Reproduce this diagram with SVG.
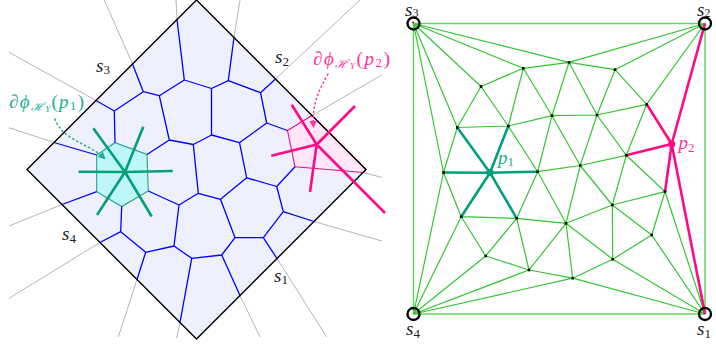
<svg xmlns="http://www.w3.org/2000/svg" width="716" height="347" viewBox="0 0 716 347">
<style>
.gray{stroke:#b5b5b5;stroke-width:1;fill:none}
.blue{stroke:#0000ff;stroke-width:1.3;fill:none;stroke-linejoin:round}
.dia{stroke:#000;stroke-width:1.4;fill:none}
.tealw{stroke:#00a07a;stroke-width:2.6;fill:none;stroke-linecap:butt}
.pinkw{stroke:#ff0a86;stroke-width:2.6;fill:none}
.g{stroke:#33c633;stroke-width:1.2;fill:none}
.gb{stroke:#5fd85f;stroke-width:1.5;fill:none}
.pt{fill:#000}
.cor{fill:none;stroke:#000;stroke-width:2.3}
.m{font-family:"Liberation Serif","DejaVu Serif",serif;font-size:19px;fill:#222}
.it{font-style:italic}
.tl{fill:#22b08e}
.pl{fill:#ff3399}
</style>
<defs>
<marker id="aT" viewBox="0 0 10 10" refX="7" refY="5" markerWidth="5" markerHeight="5" orient="auto"><path d="M0,0 L10,5 L0,10 z" fill="#22b08e"/></marker>
<marker id="aP" viewBox="0 0 10 10" refX="7" refY="5" markerWidth="5" markerHeight="5" orient="auto"><path d="M0,0 L10,5 L0,10 z" fill="#ff3399"/></marker>
</defs>

<!-- LEFT: power diagram -->
<g id="left-domain">
<path d="M196.5,0 L366,169.5 L196.5,339 L27,169.5 Z" fill="#eef0fd"/>
</g>
<g id="left-rays">
<path class="gray" d="M176,0 L177,19.5 M104.3,0 L132.5,64 M9,52.3 L96,100.5 M9,127.7 L54,142.5 M9,226 L62,204.5 M9,298.3 L100,242.5 M118.3,337 L137,279.5 M176.7,338 L180,322.5 M260,337 L240,295.5 M326.7,337 L277,258.5 M381.7,241 L314,221.5 M381.7,177.3 L363,172.5 M381.7,75 L312,115.5 M360,0 L275.5,79 M240,0 L234,37.5"/>
</g>
<g id="cell-p1">
<path d="M96.7,155 L115,142.7 L147,154.5 L148.3,191 L121.7,206.5 L96.7,191.7 Z" fill="#bff7f8" stroke="#27a08c" stroke-width="1.1"/>
</g>
<g id="cell-p2">
<path d="M287.5,130.5 L312,115.5 L366,169.5 L363,172.5 L295,166.7 Z" fill="#ffe6f6" stroke="#e0108a" stroke-width="1.1"/>
</g>
<g id="left-edges">
<path class="blue" d="M177,19.5 L184.3,80 L211.5,88.5 M184.3,80 L159.3,95.7 M132.5,64 L143.3,91.7 L159.3,95.7 L169.3,140 M143.3,91.7 L114.3,111 L115,142.7 M96,100.5 L114.3,111 M169.3,140 L147,154.5 M169.3,140 L193.3,144.5 L211.5,135 L211.5,88.5 L228.3,80.7 L234,37.5 M228.3,80.7 L260.5,92.7 L275.5,79 M260.5,92.7 L266.7,123 L287.5,130.5 M266.7,123 L239.5,142.7 L211.5,135 M239.5,142.7 L246.7,177.8 L276.7,186.5 L295,166.7 M276.7,186.5 L283.3,211.7 L314,221.5 M283.3,211.7 L263.3,237.7 L277,258.5 M263.3,237.7 L235,237.7 L220.5,199.3 L246.7,177.8 M220.5,199.3 L198.3,193.3 L193.3,144.5 M198.3,193.3 L179,205 L148.3,191 M179,205 L174,246 L191.7,258.3 L221.7,255 L235,237.7 M221.7,255 L240,295.5 M191.7,258.3 L180,322.5 M174,246 L145.7,252.3 L137,279.5 M145.7,252.3 L120.7,231.7 L100,242.5 M120.7,231.7 L121.7,206.5 M54,142.5 L96.7,155 M62,204.5 L96.7,191.7"/>
</g>
<g id="left-border">
<path class="dia" d="M196.5,0 L366,169.5 L196.5,339 L27,169.5 Z"/>
</g>
<g id="left-p1-star">
<path class="tealw" d="M125,172 L78.5,171.8 M125,172 L93.3,128.3 M125,172 L143.3,126.7 M125,172 L172.7,171 M125,172 L151.7,216.5 M125,172 L97,215"/>
</g>
<g id="left-p2-star">
<path class="pinkw" d="M316.7,144.5 L291.7,104.8 M316.7,144.5 L271.3,155.8 M316.7,144.5 L310,192 M316.7,144.5 L355,106 M316.7,144.5 L385,213"/>
</g>
<g id="left-labels">
<text class="m it" x="96" y="71.5">s<tspan font-size="13" font-style="normal" dy="2.5">3</tspan></text>
<text class="m it" x="275" y="63">s<tspan font-size="13" font-style="normal" dy="2.5">2</tspan></text>
<text class="m it" x="62" y="240">s<tspan font-size="13" font-style="normal" dy="2.5">4</tspan></text>
<text class="m it" x="274" y="281.5">s<tspan font-size="13" font-style="normal" dy="2.5">1</tspan></text>
<text class="m it tl" x="9" y="107.5" textLength="75" lengthAdjust="spacing">∂ϕ<tspan font-size="12" dy="3">ℋ</tspan><tspan font-size="9" dy="1.5">Y</tspan><tspan font-style="normal" dy="-4.5">(</tspan>p<tspan font-size="13" font-style="normal" dy="2.5">1</tspan><tspan font-style="normal" dy="-2.5">)</tspan></text>
<text class="m it pl" x="313" y="64.5" textLength="77" lengthAdjust="spacing">∂ϕ<tspan font-size="12" dy="3">ℋ</tspan><tspan font-size="9" dy="1.5">Y</tspan><tspan font-style="normal" dy="-4.5">(</tspan>p<tspan font-size="13" font-style="normal" dy="2.5">2</tspan><tspan font-style="normal" dy="-2.5">)</tspan></text>
</g>
<g id="left-arrows">
<path d="M55,119 C62,140 90,144 104,158" fill="none" stroke="#22b08e" stroke-width="1.5" stroke-dasharray="1.3,3.2" stroke-linecap="round" marker-end="url(#aT)"/>
<path d="M328,74 C318,92 312,104 313.5,126" fill="none" stroke="#ff3399" stroke-width="1.5" stroke-dasharray="1.3,3.2" stroke-linecap="round" marker-end="url(#aP)"/>
</g>

<!-- RIGHT: triangulation -->
<g id="connectors">
<rect class="gb" x="413.5" y="23.5" width="291.5" height="290.5"/>
<path class="g" d="M413.5,23.5 L443.5,172.5 M413.5,23.5 L457.3,127.5 M413.5,23.5 L481,86.5 M413.5,23.5 L523.3,68.3 M413.5,23.5 L569,62.3 M705,23.5 L569,62.3 M705,23.5 L615,69.7 M705,23.5 L646.7,104.3 M413.5,314 L443.5,172.5 M413.5,314 L461.2,216.7 M413.5,314 L485.7,256 M413.5,314 L529,270 M413.5,314 L572.7,278.2 M705,314 L572.7,278.2 M705,314 L612.7,259.3 M705,314 L651.7,235 M705,314 L665,191.7 M523.3,68.3 L481,86.5 M523.3,68.3 L569,62.3 M523.3,68.3 L508.3,126 M523.3,68.3 L552,115.7 M481,86.5 L457.3,127.5 M481,86.5 L508.3,126 M569,62.3 L552,115.7 M569,62.3 L597,115 M569,62.3 L615,69.7 M615,69.7 L597,115 M615,69.7 L646.7,104.3 M457.3,127.5 L508.3,126 M457.3,127.5 L443.5,172.5 M508.3,126 L537.7,171.7 M508.3,126 L552,115.7 M552,115.7 L537.7,171.7 M552,115.7 L580.2,165.5 M552,115.7 L597,115 M597,115 L646.7,104.3 M597,115 L580.2,165.5 M597,115 L626.3,155.3 M646.7,104.3 L626.3,155.3 M443.5,172.5 L461.2,216.7 M537.7,171.7 L580.2,165.5 M537.7,171.7 L566,223.3 M537.7,171.7 L516.7,218.3 M580.2,165.5 L626.3,155.3 M580.2,165.5 L612.3,205 M580.2,165.5 L566,223.3 M626.3,155.3 L665,191.7 M626.3,155.3 L612.3,205 M461.2,216.7 L516.7,218.3 M461.2,216.7 L485.7,256 M516.7,218.3 L566,223.3 M516.7,218.3 L529,270 M516.7,218.3 L485.7,256 M566,223.3 L612.3,205 M566,223.3 L612.7,259.3 M566,223.3 L572.7,278.2 M566,223.3 L529,270 M612.3,205 L665,191.7 M612.3,205 L651.7,235 M612.3,205 L612.7,259.3 M665,191.7 L651.7,235 M485.7,256 L529,270 M529,270 L572.7,278.2 M572.7,278.2 L612.7,259.3 M612.7,259.3 L651.7,235"/>
<path class="tealw" stroke-width="3" d="M490,172.7 L443.5,172.5 M490,172.7 L457.3,127.5 M490,172.7 L508.3,126 M490,172.7 L537.7,171.7 M490,172.7 L516.7,218.3 M490,172.7 L461.2,216.7"/>
<path class="pinkw" stroke-width="3" d="M671.7,144 L646.7,104.3 M671.7,144 L626.3,155.3 M671.7,144 L665,191.7 M671.7,144 L705,23.5 M671.7,144 L705,314"/>
</g>
<g id="n-A"><rect class="pt" x="522" y="67" width="2.6" height="2.6"/></g>
<g id="n-B"><rect class="pt" x="479.7" y="85.2" width="2.6" height="2.6"/></g>
<g id="n-C"><rect class="pt" x="567.7" y="61" width="2.6" height="2.6"/></g>
<g id="n-D"><rect class="pt" x="613.7" y="68.4" width="2.6" height="2.6"/></g>
<g id="n-E"><rect class="pt" x="456" y="126.2" width="2.6" height="2.6"/></g>
<g id="n-F"><rect class="pt" x="507" y="124.7" width="2.6" height="2.6"/></g>
<g id="n-G"><rect class="pt" x="550.7" y="114.4" width="2.6" height="2.6"/></g>
<g id="n-H"><rect class="pt" x="595.7" y="113.7" width="2.6" height="2.6"/></g>
<g id="n-I"><rect class="pt" x="645.4" y="103" width="2.6" height="2.6"/></g>
<g id="n-J"><rect class="pt" x="442.2" y="171.2" width="2.6" height="2.6"/></g>
<g id="n-K"><rect class="pt" x="536.4" y="170.4" width="2.6" height="2.6"/></g>
<g id="n-L"><rect class="pt" x="578.9" y="164.2" width="2.6" height="2.6"/></g>
<g id="n-M"><rect class="pt" x="625" y="154" width="2.6" height="2.6"/></g>
<g id="n-N"><rect class="pt" x="459.9" y="215.4" width="2.6" height="2.6"/></g>
<g id="n-O"><rect class="pt" x="515.4" y="217" width="2.6" height="2.6"/></g>
<g id="n-Q"><rect class="pt" x="564.7" y="222" width="2.6" height="2.6"/></g>
<g id="n-R"><rect class="pt" x="611" y="203.7" width="2.6" height="2.6"/></g>
<g id="n-T"><rect class="pt" x="663.7" y="190.4" width="2.6" height="2.6"/></g>
<g id="n-U"><rect class="pt" x="484.4" y="254.7" width="2.6" height="2.6"/></g>
<g id="n-V"><rect class="pt" x="527.7" y="268.7" width="2.6" height="2.6"/></g>
<g id="n-W"><rect class="pt" x="571.4" y="276.9" width="2.6" height="2.6"/></g>
<g id="n-X"><rect class="pt" x="611.4" y="258" width="2.6" height="2.6"/></g>
<g id="n-Y"><rect class="pt" x="650.4" y="233.7" width="2.6" height="2.6"/></g>
<g id="n-p1"><circle cx="490" cy="172.7" r="3.6" fill="#00a07a"/><text class="m it tl" x="498" y="163.5">p<tspan font-size="13" font-style="normal" dy="2.5">1</tspan></text></g>
<g id="n-p2"><circle cx="671.7" cy="144" r="3.6" fill="#ff0a86"/><text class="m it pl" x="678.5" y="149">p<tspan font-size="13" font-style="normal" dy="2.5">2</tspan></text></g>
<g id="n-s3"><circle class="cor" cx="413.5" cy="23.5" r="6"/><circle cx="413" cy="22.5" r="1" fill="#f00"/><text class="m it" x="405" y="15.5" font-size="17">s<tspan font-size="12" font-style="normal" dy="1.5">3</tspan></text></g>
<g id="n-s2"><circle class="cor" cx="705" cy="23.5" r="6"/><text class="m it" x="697" y="15.5" font-size="17">s<tspan font-size="12" font-style="normal" dy="1.5">2</tspan></text></g>
<g id="n-s4"><circle class="cor" cx="413.5" cy="314" r="6"/><text class="m it" x="406" y="335">s<tspan font-size="13" font-style="normal" dy="2.5">4</tspan></text></g>
<g id="n-s1"><circle class="cor" cx="705" cy="314" r="6"/><text class="m it" x="697" y="335">s<tspan font-size="13" font-style="normal" dy="2.5">1</tspan></text></g>
</svg>
